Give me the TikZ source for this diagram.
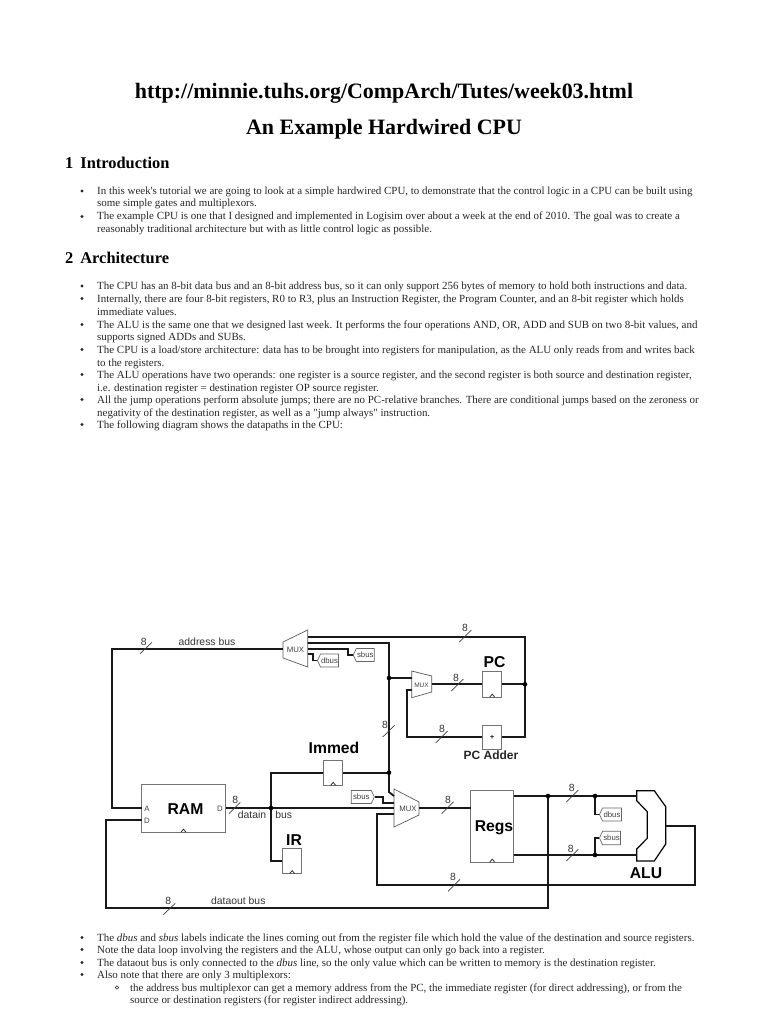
\documentclass[tikz,border=0pt]{standalone}
\usepackage{fontspec}
\setmainfont{Liberation Serif}
\setsansfont{Liberation Sans}
\newfontfamily\plainserif{Liberation Serif}
\usetikzlibrary{shapes.symbols,calc}
\newcommand\bodyline[4]{\node[bodytext] (#1) at (#2,#3) {#4};}
\newcommand\mainbullet[3]{\node[bul] (#1) at (#2,#3) {};}
\newcommand\busmark[6]{\draw[slash] (#2,#3) -- (#4,#5); \node[eightlabel] (#1) at (#6) {8};}
\newcommand\clocktick[1]{\draw[draw=black!80,line width=.8pt] (#1.south) ++(-2.5,-.3) -- ++(2.5,-3) -- ++(2.5,3);}
\tikzset{
  bodytext/.style={anchor=base west,inner sep=0pt,font=\plainserif\fontsize{10.95}{12}\selectfont,text=black!85},
  bul/.style={circle,fill=black!85,inner sep=0pt,minimum size=3.1pt},
  sectionhead/.style={anchor=base west,inner sep=0pt,font=\fontsize{16.4}{18}\selectfont\bfseries},
  pagehead/.style={inner sep=0pt,font=\fontsize{21.95}{24}\selectfont\bfseries},
  wire/.style={line width=1.8pt,draw=black!90},
  boxline/.style={draw=black!55,line width=.9pt},
  regbox/.style={boxline,rectangle,inner sep=0pt},
  muxshape/.style={draw=black!65,line width=.7pt},
  dot/.style={circle,fill=black,inner sep=0pt,minimum size=4.6pt},
  slash/.style={draw=black!75,line width=.7pt},
  eightlabel/.style={inner sep=0pt,font=\sffamily\fontsize{10.4}{12}\selectfont,text=black!80},
  buslabel/.style={inner sep=0pt,font=\sffamily\fontsize{10.4}{12}\selectfont,text=black!80},
  tinylabel/.style={inner sep=0pt,font=\sffamily\fontsize{7.8}{9}\selectfont,text=black!75},
  biglabel/.style={inner sep=0pt,font=\sffamily\bfseries\fontsize{15.7}{18}\selectfont},
  midlabel/.style={inner sep=0pt,font=\sffamily\bfseries\fontsize{12}{14}\selectfont,text=black!85},
  tagbox/.style={shape=signal,draw=black!60,line width=.7pt,inner sep=0pt,signal pointer angle=130,font=\sffamily\fontsize{7.8}{9}\selectfont,text=black!75},
}
\begin{document}
\begin{tikzpicture}[x=1pt,y=-1pt]
\useasboundingbox (0,0) rectangle (768,1024);
% ---------- page text
\node[pagehead] (url) at (384,93.5) {http://minnie.tuhs.org/CompArch/Tutes/week03.html};
\node[pagehead] (title) at (384,129.5) {An Example Hardwired CPU};
\node[sectionhead] (sec1) at (65,169) {1\hspace{7pt}Introduction};
\mainbullet{b1}{82}{191}
\bodyline{l1}{97}{194.5}{In this week's tutorial we are going to look at a simple hardwired CPU, to demonstrate that the control logic in a CPU can be built using}
\bodyline{l2}{97}{207}{some simple gates and multiplexors.}
\mainbullet{b2}{82}{216.5}
\bodyline{l3}{97}{220}{The example CPU is one that I designed and implemented in Logisim over about a week at the end of 2010. The goal was to create a}
\bodyline{l4}{97}{232.5}{reasonably traditional architecture but with as little control logic as possible.}
\node[sectionhead] (sec2) at (65,263) {2\hspace{7pt}Architecture};
\mainbullet{b3}{82}{286}
\bodyline{l5}{97}{289.5}{The CPU has an 8-bit data bus and an 8-bit address bus, so it can only support 256 bytes of memory to hold both instructions and data.}
\mainbullet{b4}{82}{298.5}
\bodyline{l6}{97}{302}{Internally, there are four 8-bit registers, R0 to R3, plus an Instruction Register, the Program Counter, and an 8-bit register which holds}
\bodyline{l7}{97}{315}{immediate values.}
\mainbullet{b5}{82}{324.5}
\bodyline{l8}{97}{328}{The ALU is the same one that we designed last week. It performs the four operations AND, OR, ADD and SUB on two 8-bit values, and}
\bodyline{l9}{97}{340.5}{supports signed ADDs and SUBs.}
\mainbullet{b6}{82}{349.5}
\bodyline{l10}{97}{353.5}{The CPU is a load/store architecture: data has to be brought into registers for manipulation, as the ALU only reads from and writes back}
\bodyline{l11}{97}{366}{to the registers.}
\mainbullet{b7}{82}{374.5}
\bodyline{l12}{97}{378.5}{The ALU operations have two operands: one register is a source register, and the second register is both source and destination register,}
\bodyline{l13}{97}{391}{i.e. destination register = destination register OP source register.}
\mainbullet{b8}{82}{399.5}
\bodyline{l14}{97}{403.5}{All the jump operations perform absolute jumps; there are no PC-relative branches. There are conditional jumps based on the zeroness or}
\bodyline{l15}{97}{416}{negativity of the destination register, as well as a "jump always" instruction.}
\mainbullet{b9}{82}{424.5}
\bodyline{l16}{97}{428.5}{The following diagram shows the datapaths in the CPU:}
\mainbullet{b10}{82}{937.5}
\bodyline{l17}{97}{941}{The \textit{dbus} and \textit{sbus} labels indicate the lines coming out from the register file which hold the value of the destination and source registers.}
\mainbullet{b11}{82}{949.5}
\bodyline{l18}{97}{953.5}{Note the data loop involving the registers and the ALU, whose output can only go back into a register.}
\mainbullet{b12}{82}{962.5}
\bodyline{l19}{97}{966}{The dataout bus is only connected to the \textit{dbus} line, so the only value which can be written to memory is the destination register.}
\mainbullet{b13}{82}{974.5}
\bodyline{l20}{97}{978.5}{Also note that there are only 3 multiplexors:}
\node[circle,draw=black!85,line width=.6pt,inner sep=0pt,minimum size=3.4pt] (b14) at (117,987.5) {};
\bodyline{l21}{130}{991}{the address bus multiplexor can get a memory address from the PC, the immediate register (for direct addressing), or from the}
\bodyline{l22}{130}{1003.5}{source or destination registers (for register indirect addressing).}
% ---------- boxes
\node[regbox,minimum width=83.5pt,minimum height=48pt] (ram) at (183.5,808) {};
\node[regbox,minimum width=19pt,minimum height=25pt] (immed) at (333.2,772.7) {};
\node[regbox,minimum width=19pt,minimum height=25pt] (ir) at (292.2,861) {};
\node[regbox,minimum width=19pt,minimum height=25.4pt] (pc) at (492.2,684.3) {};
\node[regbox,minimum width=19pt,minimum height=24pt] (adder) at (492.2,737) {\sffamily\bfseries\fontsize{7}{8}\selectfont +};
\node[regbox,minimum width=43pt,minimum height=72pt] (regs) at (492.2,826) {};
\clocktick{ram}\clocktick{immed}\clocktick{ir}\clocktick{pc}\clocktick{regs}
% multiplexers and ALU
\draw[muxshape] (283,642) -- (307.7,630) -- (307.7,667) -- (283,658) -- cycle;
\draw[muxshape] (411.7,671) -- (431.7,676) -- (431.7,692) -- (411.7,697.7) -- cycle;
\draw[muxshape] (394,789) -- (419,802) -- (419,815) -- (394,827) -- cycle;
\draw[line width=1.2pt] (636.7,790.7) -- (654.3,790.7) -- (665.7,806.7) -- (665.7,844) -- (654.3,861) -- (636.7,861) -- (636.7,849) -- (647.3,838.3) -- (647.3,811.7) -- (636.7,800.7) -- cycle;
\node[tinylabel] (m1) at (295.5,649.5) {MUX};
\node[tinylabel,font=\sffamily\fontsize{6.5}{7}\selectfont] (m2) at (421.5,685) {MUX};
\node[tinylabel] (m3) at (408,808.5) {MUX};
% tags
\node[tagbox,signal to=west,minimum width=21pt,minimum height=13pt] (tdb1) at (329.5,660.5) {dbus};
\node[tagbox,signal to=west,minimum width=21pt,minimum height=13pt] (tsb1) at (365.3,655) {sbus};
\node[tagbox,signal to=east,minimum width=23pt,minimum height=13pt] (tsb3) at (361.3,797) {sbus};
\node[tagbox,signal to=west,minimum width=22pt,minimum height=13pt] (tdb2) at (612,814.5) {dbus};
\node[tagbox,signal to=west,minimum width=21pt,minimum height=13.5pt] (tsb2) at (611.5,838) {sbus};
% ---------- named wire points
\coordinate (muxA) at (283,648.7);
\coordinate (muxT) at (307.7,637);
\coordinate (muxV) at (307.7,643);
\coordinate (muxS) at (307.7,649);
\coordinate (muxD) at (307.7,654);
\coordinate (pcmuxIn) at (411.7,678);
\coordinate (pcmuxAdd) at (411.7,690);
\coordinate (pcmuxOut) at (431.7,684.3);
\coordinate (dimux1) at (394,796);
\coordinate (dimux2) at (394,802.7);
\coordinate (dimux3) at (394,808);
\coordinate (dimux4) at (394,814);
\coordinate (dimuxOut) at (419,808);
\coordinate (jV1) at (389,678);
\coordinate (jV2) at (389,772.7);
\coordinate (jPC) at (525,684.3);
\coordinate (jIn) at (271,808);
\coordinate (ramA) at (141.7,808);
\coordinate (ramD) at (141.7,820);
\coordinate (regsIn) at (470.7,808);
\coordinate (regs1) at (513.7,796);
\coordinate (regs2) at (513.7,855);
\coordinate (jD) at (548,796);
\coordinate (jA) at (595,796);
\coordinate (jB) at (595,855);
\coordinate (alu1) at (636.7,796);
\coordinate (alu2) at (636.7,855);
\coordinate (aluOut) at (665.7,825.7);
% ---------- wires
\draw[wire] (muxA) -- (112,648.7) -- (112,808) -- (ramA);
\draw[wire] (muxT) -- (525,637) -- (jPC) -- (525,737) -- (adder.east);
\draw[wire] (muxV) -- (389,643) -- (389,792) -- (dimux1);
\draw[wire] (muxS) -- (348,649) -- (348,655) -- (tsb1.west);
\draw[wire] (muxD) -- (313,654) -- (313,660.5) -- (tdb1.west);
\draw[wire] (jV1) -- (pcmuxIn);
\draw[wire] (pcmuxOut) -- (pc.west);
\draw[wire] (pc.east) -- (jPC);
\draw[wire] (adder.west) -- (406.7,737) -- (406.7,690) -- (pcmuxAdd);
\draw[wire] (jV2) -- (immed.east);
\draw[wire] (immed.west) -- (271,772.7) -- (jIn) -- (271,861) -- (ir.west);
\draw[wire] (ram.east) -- (dimux3);
\draw[wire] (tsb3.east) -- (383,797) -- (383,802.7) -- (dimux2);
\draw[wire] (dimuxOut) -- (regsIn);
\draw[wire] (regs1) -- (alu1);
\draw[wire] (regs2) -- (alu2);
\draw[wire] (jD) -- (548,908) -- (106,908) -- (106,820) -- (ramD);
\draw[wire] (jA) -- (595,814.5) -- (tdb2.west);
\draw[wire] (jB) -- (595,838) -- (tsb2.west);
\draw[wire] (aluOut) -- (695.3,825.7) -- (695.3,884.7) -- (377.3,884.7) -- (377.3,814) -- (dimux4);
% ---------- junctions
\foreach \p/\n in {jV1/d1,jV2/d2,jPC/d3,jIn/d4,jD/d5,jA/d6,jB/d7}{\node[dot] (\n) at (\p) {};}
% ---------- bus marks
\busmark{e1}{140}{653.7}{152}{642.3}{143.7,642}
\busmark{e2}{459.3}{642}{471.3}{630}{465,628}
\busmark{e3}{451.3}{691}{463.3}{679}{456,678}
\busmark{e4}{435.7}{743}{447.7}{731}{442,729}
\busmark{e5}{382.7}{737}{394.7}{725.3}{385,725}
\busmark{e6}{229}{813.7}{240.3}{802.3}{235.3,800}
\busmark{e7}{163.3}{914.7}{175.3}{903.3}{168.3,901.3}
\busmark{e8}{441.7}{813.7}{453.7}{801.7}{448,800}
\busmark{e9}{566.3}{802}{578.3}{790}{571.7,787.7}
\busmark{e10}{566.3}{861}{578.3}{849.3}{570.7,849}
\busmark{e11}{448}{891.3}{460}{879.3}{453,876.7}
% ---------- labels
\node[buslabel] (addrbus) at (207,642) {address bus};
\node[buslabel] (datain) at (252,815) {datain};
\node[buslabel] (bus) at (283.7,815) {bus};
\node[buslabel] (dataout) at (238.3,901) {dataout bus};
\node[tinylabel] (ramLA) at (147,809) {A};
\node[tinylabel] (ramLD) at (147,820.5) {D};
\node[tinylabel] (ramLO) at (220,809) {D};
\node[biglabel] (lram) at (185.5,809) {RAM};
\node[biglabel] (lregs) at (494,828) {Regs};
\node[biglabel] (lir) at (294,840) {IR};
\node[biglabel] (lpc) at (494.5,662) {PC};
\node[biglabel] (lalu) at (646,873) {ALU};
\node[biglabel] (limmed) at (334,748) {Immed};
\node[midlabel] (ladder) at (491,755) {PC Adder};
\end{tikzpicture}
\end{document}
